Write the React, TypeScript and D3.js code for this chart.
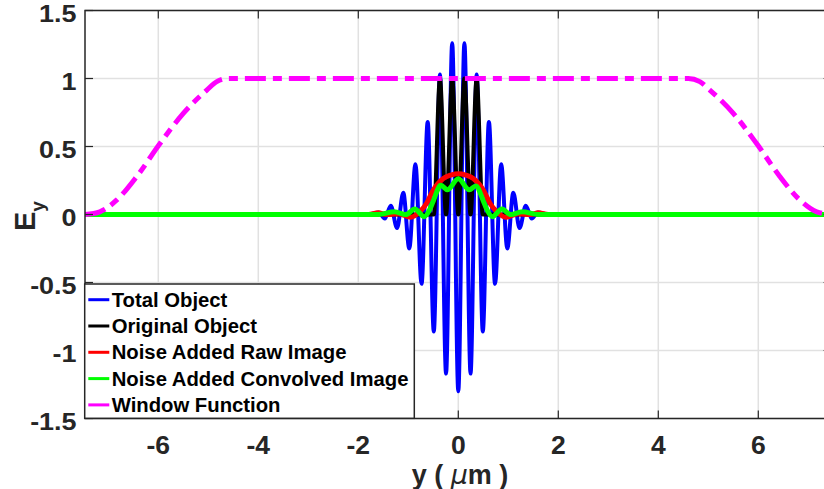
import React from 'react';
import * as d3 from 'd3';

type P = [number, number];

// Series values (x in µm, Ey)
const totalObject: P[] = [
  [-7.466, 0], [-1.8, 0], [-1.59, 0.015], [-1.47, -0.03], [-1.35, 0.065], [-1.225, -0.1],
  [-1.1, 0.16], [-0.98, -0.25], [-0.857, 0.37], [-0.735, -0.51], [-0.612, 0.68],
  [-0.49, -0.86], [-0.367, 1.03], [-0.245, -1.17], [-0.122, 1.26], [0, -1.3],
  [0.122, 1.26], [0.245, -1.17], [0.367, 1.03], [0.49, -0.86], [0.612, 0.68],
  [0.735, -0.51], [0.857, 0.37], [0.98, -0.25], [1.1, 0.16], [1.225, -0.1],
  [1.35, 0.065], [1.47, -0.03], [1.59, 0.015], [1.8, 0], [7.466, 0],
];

const originalObject: P[] = [
  [-7.466, 0], [-0.6, 0], [-0.49, 0], [-0.367, 1.0], [-0.245, 0], [-0.122, 1.0], [0, 0],
  [0.122, 1.0], [0.245, 0], [0.367, 1.0], [0.49, 0], [0.6, 0], [7.466, 0],
];

const rawImage: P[] = [
  [-7.466, 0], [-1.8, 0], [-1.6, 0.012], [-1.45, 0], [-1.2, 0.005], [-0.95, -0.02],
  [-0.77, 0.02], [-0.63, 0.085], [-0.5, 0.18], [-0.3, 0.265], [-0.15, 0.29], [0, 0.3],
  [0.15, 0.29], [0.3, 0.265], [0.5, 0.18], [0.63, 0.085], [0.77, 0.02], [0.95, -0.02],
  [1.2, 0.005], [1.45, 0], [1.6, 0.012], [1.8, 0], [7.466, 0],
];

const convolvedImage: P[] = [
  [-7.466, 0], [-1.6, 0], [-1.28, 0.02], [-1.05, 0], [-0.87, 0.04], [-0.68, -0.016],
  [-0.58, 0.03], [-0.5, 0.1], [-0.35, 0.215], [-0.22, 0.182], [0, 0.262],
  [0.22, 0.182], [0.35, 0.21], [0.5, 0.1], [0.58, 0.03], [0.68, -0.016], [0.87, 0.04],
  [1.05, 0], [1.28, 0.02], [1.6, 0], [7.466, 0],
];

const windowFunction: P[] = [
  [-7.466, 0], [-7.17, 0.02], [-6.83, 0.107], [-6.43, 0.28], [-5.97, 0.52], [-5.5, 0.744],
  [-5.03, 0.915], [-4.83, 0.977], [-4.6, 1.0], [4.6, 1.0], [4.83, 0.977], [5.03, 0.915],
  [5.5, 0.744], [5.97, 0.52], [6.43, 0.28], [6.83, 0.107], [7.17, 0.02], [7.466, 0],
];

const xTicks = [-6, -4, -2, 0, 2, 4, 6];
const yTicks = [-1.5, -1, -0.5, 0, 0.5, 1, 1.5];
const legendLabels = [
  'Total Object',
  'Original Object',
  'Noise Added Raw Image',
  'Noise Added Convolved Image',
  'Window Function',
];
const seriesColors = ['#0000ff', '#000000', '#ff0000', '#00ff00', '#ff00ff'];

const FONT = '"Liberation Sans", Arial, Helvetica, sans-serif';
const AX = '#262626';

export default function App() {
  const W = 824, H = 489;
  const left = 85, right = 831.6, top = 10.5, bottom = 418.5;
  const x = d3.scaleLinear().domain([-7.466, 7.466]).range([left, right]);
  const y = d3.scaleLinear().domain([-1.5, 1.5]).range([bottom, top]);
  const line = d3.line<P>().x(d => x(d[0])).y(d => y(d[1])).curve(d3.curveMonotoneX);

  const series = [
    { data: totalObject, w: 4 },
    { data: originalObject, w: 4 },
    { data: rawImage, w: 5 },
    { data: convolvedImage, w: 5 },
    { data: windowFunction, w: 5, dash: '21,7,9,7' },
  ];

  const legX = 84.7, legY = 284, legW = 329.6, legH = 134.3;

  return (
    <svg width={W} height={H} style={{ position: 'absolute', left: 0, top: 0, background: '#fff' }}
      fontFamily={FONT}>
      <defs>
        <clipPath id="plotclip">
          <rect x={left} y={top} width={right - left} height={bottom - top} />
        </clipPath>
      </defs>
      <rect x={0} y={0} width={W} height={H} fill="#fff" />
      {/* grid */}
      <g stroke="#e1e1e1" strokeWidth={1.5}>
        {xTicks.map(t => (
          <line key={'gx' + t} x1={x(t)} x2={x(t)} y1={top} y2={bottom} />
        ))}
        {yTicks.map(t => (
          <line key={'gy' + t} x1={left} x2={right} y1={y(t)} y2={y(t)} />
        ))}
      </g>
      {/* series */}
      <g clipPath="url(#plotclip)" fill="none" strokeLinejoin="round">
        {series.map((s, i) => (
          <path key={i} d={line(s.data) || ''} stroke={seriesColors[i]} strokeWidth={s.w}
            strokeDasharray={s.dash} />
        ))}
      </g>
      {/* axes box */}
      <g stroke={AX} strokeWidth={1.5} fill="none">
        <rect x={left} y={top} width={right - left} height={bottom - top} />
        {xTicks.map(t => (
          <g key={'tx' + t}>
            <line x1={x(t)} x2={x(t)} y1={bottom} y2={bottom - 8} strokeWidth={1.2} />
            <line x1={x(t)} x2={x(t)} y1={top} y2={top + 8} strokeWidth={1.2} />
          </g>
        ))}
        {yTicks.map(t => (
          <g key={'ty' + t}>
            <line x1={left} x2={left + 8} y1={y(t)} y2={y(t)} strokeWidth={1.2} />
            <line x1={right} x2={right - 8} y1={y(t)} y2={y(t)} strokeWidth={1.2} />
          </g>
        ))}
      </g>
      {/* tick labels */}
      <g fill={AX} fontWeight="bold">
        {xTicks.map(t => (
          <text key={'lx' + t} x={x(t)} y={454} fontSize={26.5} textAnchor="middle">{String(t)}</text>
        ))}
        {yTicks.map(t => (
          <g key={'ly' + t} transform={`translate(76.5, ${y(t) + 3}) scale(1.17,1)`}>
            <text x={0} y={0} fontSize={23} textAnchor="end" dominantBaseline="central">{String(t)}</text>
          </g>
        ))}
      </g>
      {/* axis labels */}
      <text x={460} y={484} fontSize={27} fontWeight="bold" fill={AX} textAnchor="middle">
        <tspan>y ( </tspan>
        <tspan fontStyle="italic" fontWeight="normal" fontFamily='"DejaVu Sans", sans-serif'>μ</tspan>
        <tspan>m )</tspan>
      </text>
      <g transform="translate(35, 231) rotate(-90)">
        <text x={0} y={0} fontSize={29} fontWeight="bold" fill={AX}>
          <tspan>E</tspan>
          <tspan fontSize={19} dy={9}>y</tspan>
        </text>
      </g>
      {/* legend */}
      <g>
        <rect x={legX} y={legY} width={legW} height={legH} fill="#fff" stroke={AX} strokeWidth={1.5} />
        {legendLabels.map((lab, i) => {
          const base = 306.7 + i * 26.3;
          return (
            <g key={lab}>
              <line x1={88.3} x2={109.3} y1={base - 7} y2={base - 7} stroke={seriesColors[i]} strokeWidth={3} />
              <text x={111.7} y={base} fontSize={20.3} fontWeight="bold" fill="#000">{lab}</text>
            </g>
          );
        })}
      </g>
    </svg>
  );
}
